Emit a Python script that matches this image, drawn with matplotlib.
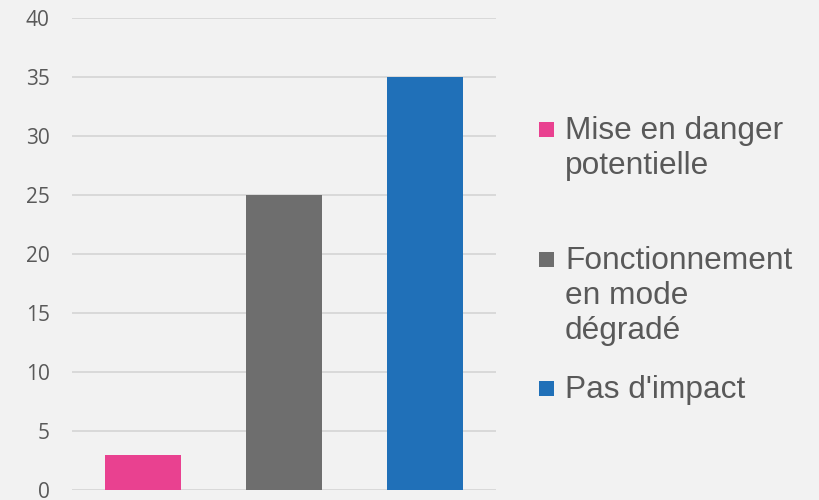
import matplotlib
matplotlib.use("Agg")
import matplotlib.pyplot as plt
from matplotlib.patches import Rectangle

categories = ["Mise en danger\npotentielle", "Fonctionnement\nen mode\ndégradé", "Pas d'impact"]
values = [3, 25, 35]
colors = ["#e94190", "#6e6e6e", "#2070b8"]
yticks = [0, 5, 10, 15, 20, 25, 30, 35, 40]

bg = "#f2f2f2"
txt = "#595959"

fig = plt.figure(figsize=(8.2, 5), dpi=100, facecolor=bg)
ax = fig.add_axes([72/820, 1-490/500, (496-72)/820, (490-18)/500], facecolor=bg)

x = list(range(len(values)))
ax.bar(x, values, width=0.54, color=colors, zorder=3)
ax.set_xlim(-0.5, len(values)-0.5)
ax.set_ylim(0, 40)
ax.set_yticks(yticks)
ax.set_yticklabels([str(t) for t in yticks], fontfamily="Open Sans", fontsize=15, color=txt)
ax.tick_params(axis="y", length=0, pad=16)
ax.set_xticks([])
for s in ax.spines.values():
    s.set_visible(False)
ax.yaxis.grid(True, color="#d9d9d9", linewidth=1.4, zorder=0)
ax.set_axisbelow(True)

# legend (manual placement, first baseline of each entry in px from top)
baselines = [139, 269, 398]
line_step = 35
for lab, col, b in zip(categories, colors, baselines):
    fig.patches.append(Rectangle((539/820, 1-(b-2)/500), 15/820, 15/500,
                                 transform=fig.transFigure, facecolor=col,
                                 edgecolor="none"))
    for i, line in enumerate(lab.split("\n")):
        fig.text(565/820, 1-(b + i*line_step)/500, line, fontfamily="Liberation Sans",
                 fontsize=22.8, color=txt, va="baseline", ha="left")

fig.savefig("out.png", dpi=100, facecolor=bg)
